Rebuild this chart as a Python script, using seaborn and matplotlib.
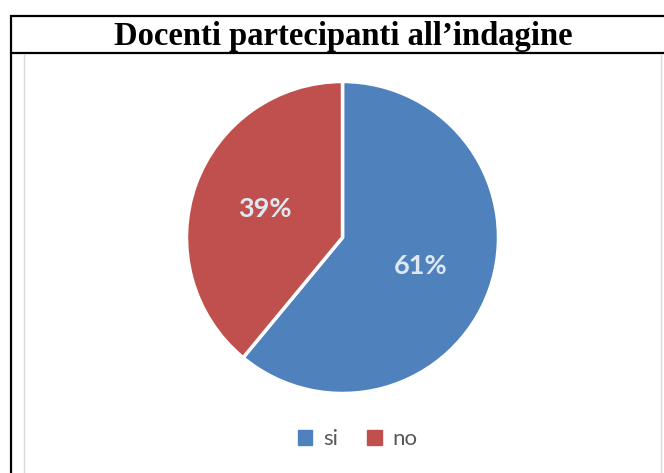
import matplotlib
matplotlib.use("Agg")
import matplotlib.pyplot as plt
from matplotlib.lines import Line2D
from matplotlib.patches import Patch
import seaborn as sns

# ---- data ----
categories = ["si", "no"]
values = [61, 39]
title = "Docenti partecipanti all\u2019indagine"
colors = ["#4F81BD", "#C0504D"]

sns.set_theme(style="white")
plt.rcParams['font.family'] = ['Lato', 'DejaVu Sans']

W, H = 664, 473
fig = plt.figure(figsize=(W / 100, H / 100), dpi=100)
fig.patch.set_facecolor("white")

def fx(x):
    return x / W

def fy(y):
    return 1 - y / H

# borders
def hline(y, x0, x1, color, lw):
    fig.add_artist(Line2D([fx(x0), fx(x1)], [fy(y), fy(y)], color=color, lw=lw,
                          transform=fig.transFigure, solid_capstyle="butt"))

def vline(x, y0, y1, color, lw):
    fig.add_artist(Line2D([fx(x), fx(x)], [fy(y0), fy(y1)], color=color, lw=lw,
                          transform=fig.transFigure, solid_capstyle="butt"))

hline(16, 10, 664, "black", 1.6)
hline(53, 10, 664, "black", 1.6)
vline(11, 15, 473, "black", 1.6)
vline(24, 54, 473, "#D9D9D9", 1.0)
vline(661, 54, 473, "#D9D9D9", 1.0)

fig.text(fx(343), fy(36), title, ha="center", va="center",
         fontsize=23.5, fontweight="bold", family=["Liberation Serif", "DejaVu Serif"],
         color="black")

# pie
cx, cy, r = 342.5, 237.5, 156
ax = fig.add_axes([fx(cx - r), fy(cy + r), 2 * r / W, 2 * r / H])
wedges, texts, autotexts = ax.pie(
    values, colors=colors, startangle=90, counterclock=False,
    autopct=lambda p: f"{p:.0f}%", pctdistance=0.53,
    wedgeprops=dict(edgecolor="white", linewidth=2.5),
    textprops=dict(color="#DDE8F2", fontsize=19.5, fontweight="bold"),
)
ax.set_xlim(-1, 1)
ax.set_ylim(-1, 1)
ax.set_aspect("auto")
ax.axis("off")

handles = [Patch(facecolor=c, edgecolor=c) for c in colors]
fig.legend(handles, categories, loc="center", bbox_to_anchor=(fx(358), fy(439)),
           ncol=2, frameon=False, fontsize=16, handlelength=0.64, handleheight=0.64,
           handletextpad=0.5, columnspacing=1.3, labelcolor="#595959")

fig.savefig("out.png", dpi=100, facecolor="white")
